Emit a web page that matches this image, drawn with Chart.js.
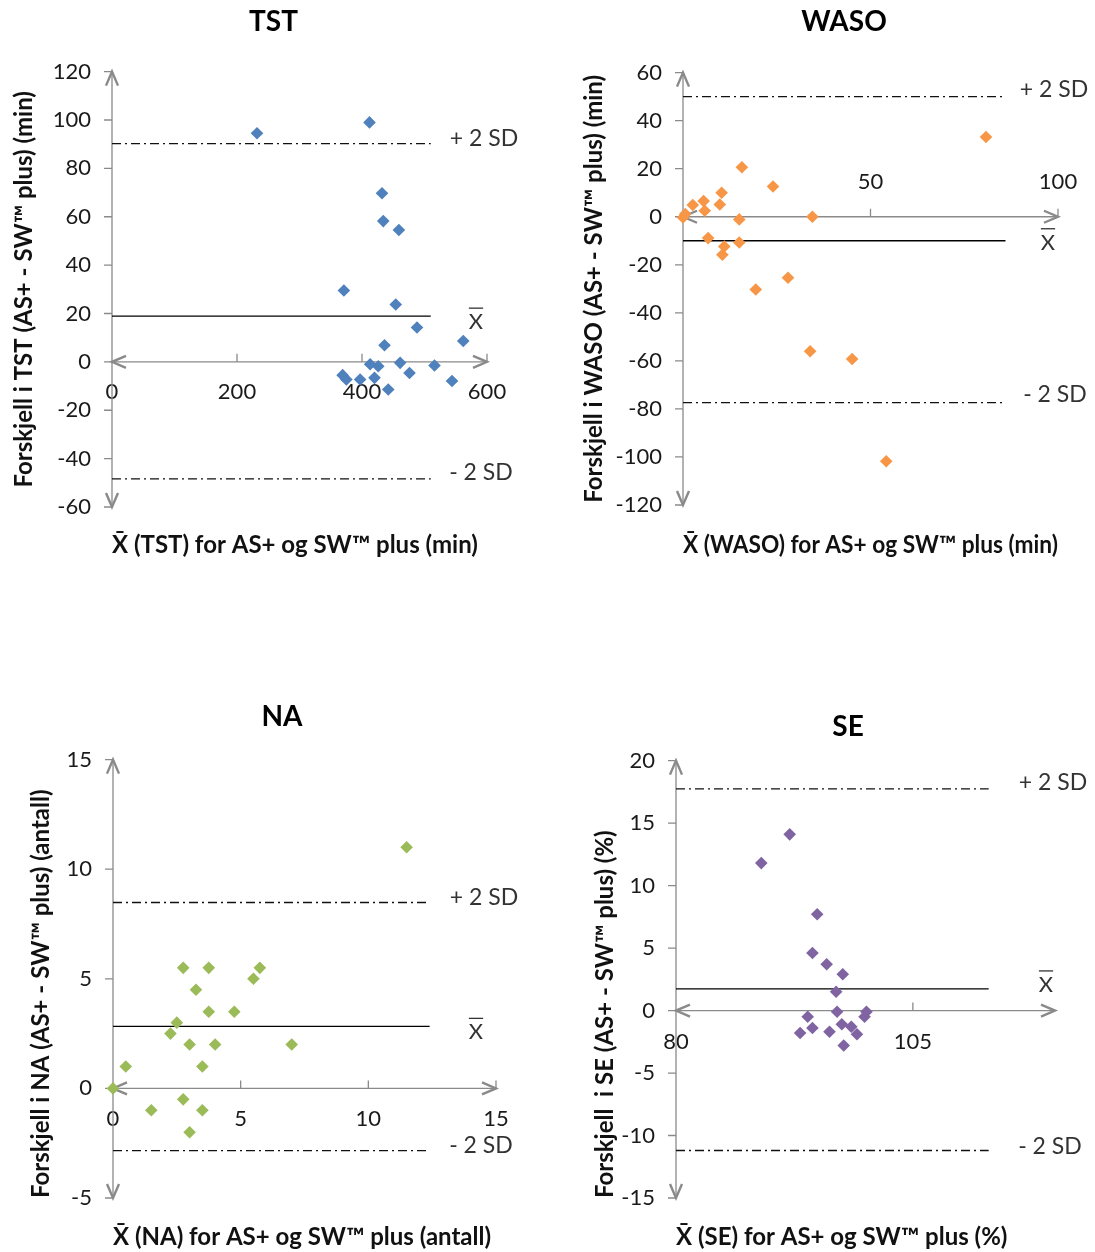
<!DOCTYPE html>
<html>
<head>
<meta charset="utf-8">
<script src="https://cdn.jsdelivr.net/npm/chart.js@4.4.0/dist/chart.umd.min.js"></script>
<style>
  html, body { margin: 0; padding: 0; background: #fff; }
  body { position: relative; width: 1095px; height: 1252px; overflow: hidden; }
  canvas { position: absolute; }
</style>
</head>
<body>
<canvas id="tst" width="547" height="580" style="left:0px;top:0px"></canvas>
<canvas id="waso" width="568" height="580" style="left:560px;top:0px"></canvas>
<canvas id="na" width="564" height="562" style="left:0px;top:690px"></canvas>
<canvas id="se" width="556" height="562" style="left:570px;top:690px"></canvas>
<script>
// values (mean of the two devices on x, difference on y)
var tstX = [232, 412, 432, 434, 459, 371, 454, 488, 562, 436, 413, 426, 461, 516, 476, 369, 375, 397, 420, 544, 442];
var tstY = [94.5, 99, 69.7, 58.2, 54.5, 29.5, 23.7, 14.2, 8.6, 6.9, -1, -1.8, -0.4, -1.5, -4.6, -5.5, -7.3, -7.3, -6.6, -7.9, -11.4];

var wasoX = [80.8, 15.7, 24, 10.3, 5.5, 2.6, 9.8, 5.8, 0.6, 0, 15, 34.5, 6.7, 11, 10.5, 15, 19.4, 28, 33.9, 45.1, 54.2];
var wasoY = [33.2, 20.6, 12.6, 10, 6.5, 4.9, 5.1, 2.5, 1.1, -0.3, -1.1, 0, -8.9, -12.4, -15.8, -10.7, -30.3, -25.4, -56, -59.2, -101.8];

var naX = [11.5, 2.75, 3.75, 5.75, 5.5, 3.25, 3.75, 4.75, 2.5, 2.25, 3, 4, 7, 0.5, 3.5, 0, 2.75, 1.5, 3.5, 3];
var naY = [11, 5.5, 5.5, 5.5, 5, 4.5, 3.5, 3.5, 3, 2.5, 2, 2, 2, 1, 1, 0, -0.5, -1, -1, -2];

var seX = [92.0, 89.0, 94.9, 94.4, 95.9, 97.6, 96.9, 97.0, 100.1, 99.9, 93.9, 94.4, 93.1, 96.2, 97.5, 98.5, 99.1, 97.7];
var seY = [14.1, 11.8, 7.7, 4.6, 3.7, 2.9, 1.5, -0.1, -0.1, -0.5, -0.5, -1.4, -1.8, -1.7, -1.1, -1.3, -1.9, -2.8];

// mean, +2 SD, -2 SD and where the lines stop on x
var tstLines = [18.9, 90.2, -48.4, 510];
var wasoLines = [-10, 50, -77.4, 86];
var naLines = [2.83, 8.48, -2.84, 12.4];
var seLines = [1.73, 17.74, -11.2, 113];

// tick labels
var tstXTicks = [0, 200, 400, 600];
var tstYTicks = [-60, -40, -20, 0, 20, 40, 60, 80, 100, 120];
var wasoXTicks = [50, 100];
var wasoYTicks = [-120, -100, -80, -60, -40, -20, 0, 20, 40, 60];
var naXTicks = [0, 5, 10, 15];
var naYTicks = [-5, 0, 5, 10, 15];
var seXTicks = [80, 105];
var seYTicks = [-15, -10, -5, 0, 5, 10, 15, 20];

var FONT = 'Lato';
var AXIS = '#8a8a8a';

function arrow(ctx, x, y, dx, dy) {
  // open V head, tip at (x, y), pointing along (dx, dy)
  var len = 14, half = 6;
  var bx = x - dx * len, by = y - dy * len;
  ctx.beginPath();
  ctx.moveTo(bx - dy * half, by + dx * half);
  ctx.lineTo(x, y);
  ctx.lineTo(bx + dy * half, by - dx * half);
  ctx.stroke();
}

var axesPlugin = {
  id: 'bland',
  beforeDatasetsDraw: function (chart) {
    var ctx = chart.ctx, sx = chart.scales.x, sy = chart.scales.y;
    var yz = sy.getPixelForValue(0);
    var xl = sx.left, xr = sx.right, yt = sy.top, yb = sy.bottom;
    ctx.save();
    ctx.strokeStyle = AXIS;
    ctx.lineWidth = 1.3;
    ctx.beginPath();
    ctx.moveTo(xl, yz); ctx.lineTo(xr, yz);
    ctx.moveTo(xl, yt); ctx.lineTo(xl, yb);
    sy.ticks.forEach(function (t) {
      var py = sy.getPixelForValue(t.value);
      ctx.moveTo(xl - 8, py); ctx.lineTo(xl, py);
    });
    sx.ticks.forEach(function (t) {
      var px = sx.getPixelForValue(t.value);
      if (px - xl < 3) return;
      ctx.moveTo(px, yz); ctx.lineTo(px, yz - 8);
    });
    ctx.stroke();
    ctx.lineWidth = 2.4;
    arrow(ctx, xr, yz, 1, 0);
    arrow(ctx, xl, yz, -1, 0);
    arrow(ctx, xl, yt, 0, -1);
    arrow(ctx, xl, yb, 0, 1);
    ctx.restore();
  },
  afterDraw: function (chart) {
    var o = chart.options.plugins.bland;
    var ctx = chart.ctx, sy = chart.scales.y, right = chart.chartArea.right;
    ctx.save();
    ctx.fillStyle = '#333';
    ctx.textAlign = 'center';
    ctx.textBaseline = 'middle';
    o.labels.forEach(function (l) {
      var cx = right + l.dx, cy = sy.getPixelForValue(l.value) + l.dy;
      if (l.bar) {
        ctx.font = '22px ' + FONT;
        ctx.fillText('X', cx, cy);
        var w = ctx.measureText('X').width;
        ctx.strokeStyle = '#333';
        ctx.lineWidth = 1.3;
        ctx.beginPath();
        ctx.moveTo(cx - w / 2, cy - 14); ctx.lineTo(cx + w / 2, cy - 14);
        ctx.stroke();
      } else {
        ctx.font = '23px ' + FONT;
        ctx.fillText(l.text, cx, cy);
      }
    });
    ctx.restore();
  }
};

function ticksFrom(arr) {
  return function (scale) { scale.ticks = arr.map(function (v) { return { value: v }; }); };
}

function makeChart(id, s) {
  var pts = s.x.map(function (v, i) { return { x: v, y: s.y[i] }; });
  function hline(v) { return [{ x: s.xMin, y: v }, { x: s.lines[3], y: v }]; }
  var tickFont = { family: FONT, size: 22 };
  var titleFont = { family: FONT, size: 24, weight: 'bold' };
  new Chart(document.getElementById(id), {
    type: 'scatter',
    data: {
      datasets: [
        { data: pts, pointStyle: 'rectRot', pointRadius: 6.3, pointHoverRadius: 6.3,
          backgroundColor: s.color, borderWidth: 0, clip: false },
        { data: hline(s.lines[0]), showLine: true, pointRadius: 0, borderColor: '#000', borderWidth: 1.3 },
        { data: hline(s.lines[1]), showLine: true, pointRadius: 0, borderColor: '#111', borderWidth: 1.3, borderDash: [9, 4, 2, 4] },
        { data: hline(s.lines[2]), showLine: true, pointRadius: 0, borderColor: '#111', borderWidth: 1.3, borderDash: [9, 4, 2, 4] }
      ]
    },
    options: {
      responsive: false,
      animation: false,
      events: [],
      layout: { padding: 0 },
      plugins: {
        legend: { display: false },
        tooltip: { enabled: false },
        title: { display: true, text: s.title, color: '#000',
          font: { family: FONT, size: 28, weight: 'bold' },
          padding: { top: s.tPad[0], bottom: s.tPad[1] } },
        subtitle: { display: true, text: s.xTitle, position: 'bottom', align: 'start', fullSize: false,
          color: '#111', font: titleFont, padding: { top: s.sPad[0], bottom: s.sPad[1] } },
        bland: { labels: s.labels }
      },
      scales: {
        x: {
          type: 'linear', position: { y: 0 }, min: s.xMin, max: s.xMax,
          afterBuildTicks: ticksFrom(s.xTicks),
          afterFit: function (sc) { sc.height = 0; },
          grid: { display: false, drawTicks: false },
          border: { display: false },
          ticks: { padding: s.xLabPad, font: tickFont, color: '#1a1a1a', maxRotation: 0, minRotation: 0, autoSkip: false }
        },
        y: {
          type: 'linear', position: 'left', min: s.yMin, max: s.yMax,
          afterBuildTicks: ticksFrom(s.yTicks),
          afterFit: function (sc) { sc.width = s.left; },
          grid: { display: false, drawTicks: false },
          border: { display: false },
          ticks: { padding: 21, font: tickFont, color: '#1a1a1a', autoSkip: false },
          title: { display: true, text: s.yTitle, align: s.yAlign, color: '#111', font: titleFont,
            padding: { top: s.yTitlePad, bottom: 0 } }
        },
        yR: {
          type: 'linear', position: 'right', display: true,
          ticks: { display: false }, grid: { display: false }, border: { display: false },
          afterFit: function (sc) { sc.width = s.right; }
        }
      }
    },
    plugins: [axesPlugin]
  });
}

makeChart('tst', {
  title: 'TST', color: '#4f81bd', x: tstX, y: tstY, lines: tstLines,
  xMin: 0, xMax: 600, yMin: -60, yMax: 120, xTicks: tstXTicks, yTicks: tstYTicks,
  yTitle: 'Forskjell i TST (AS+ - SW\u2122 plus) (min)', yAlign: 'center', yTitlePad: 9.6,
  xTitle: 'X\u0304 (TST) for AS+ og SW\u2122 plus (min)',
  left: 112, right: 60, tPad: [5, 33], sPad: [23.6, 20.6], xLabPad: 16.8,
  labels: [{ text: '+ 2 SD', value: tstLines[1], dx: -3, dy: -5 },
           { text: 'X', bar: true, value: tstLines[0], dx: -11, dy: 6 },
           { text: '- 2 SD', value: tstLines[2], dx: -6, dy: -6 }]
});

makeChart('waso', {
  title: 'WASO', color: '#f79646', x: wasoX, y: wasoY, lines: wasoLines,
  xMin: 0, xMax: 100, yMin: -120, yMax: 60, xTicks: wasoXTicks, yTicks: wasoYTicks,
  yTitle: 'Forskjell i WASO (AS+ - SW\u2122 plus) (min)', yAlign: 'center', yTitlePad: 19.6,
  xTitle: 'X\u0304 (WASO) for AS+ og SW\u2122 plus (min)',
  left: 123, right: 70, tPad: [5, 34], sPad: [25.6, 20.6], xLabPad: -48.2,
  labels: [{ text: '+ 2 SD', value: wasoLines[1], dx: -4, dy: -7 },
           { text: 'X', bar: true, value: wasoLines[0], dx: -10, dy: 2 },
           { text: '- 2 SD', value: wasoLines[2], dx: -3, dy: -8 }]
});

makeChart('na', {
  title: 'NA', color: '#9bbb59', x: naX, y: naY, lines: naLines,
  xMin: 0, xMax: 15, yMin: -5, yMax: 15, xTicks: naXTicks, yTicks: naYTicks,
  yTitle: 'Forskjell i NA (AS+ - SW\u2122 plus) (antall)', yAlign: 'start', yTitlePad: 27,
  xTitle: 'X\u0304 (NA) for AS+ og SW\u2122 plus (antall)',
  left: 113, right: 68, tPad: [10, 26], sPad: [24.6, 0.6], xLabPad: 17.8,
  labels: [{ text: '+ 2 SD', value: naLines[1], dx: -12, dy: -5 },
           { text: 'X', bar: true, value: naLines[0], dx: -20, dy: 6 },
           { text: '- 2 SD', value: naLines[2], dx: -15, dy: -5 }]
});

makeChart('se', {
  title: 'SE', color: '#8064a2', x: seX, y: seY, lines: seLines,
  xMin: 80, xMax: 120, yMin: -15, yMax: 20, xTicks: seXTicks, yTicks: seYTicks,
  yTitle: 'Forskjell  i SE (AS+ - SW\u2122 plus) (%)', yAlign: 'start', yTitlePad: 20.6,
  xTitle: 'X\u0304 (SE) for AS+ og SW\u2122 plus (%)',
  left: 106, right: 71, tPad: [20, 17], sPad: [24.6, 0.6], xLabPad: 17.8,
  labels: [{ text: '+ 2 SD', value: seLines[1], dx: -2, dy: -6 },
           { text: 'X', bar: true, value: seLines[0], dx: -9, dy: -4 },
           { text: '- 2 SD', value: seLines[2], dx: -5, dy: -4 }]
});
</script>
</body>
</html>
